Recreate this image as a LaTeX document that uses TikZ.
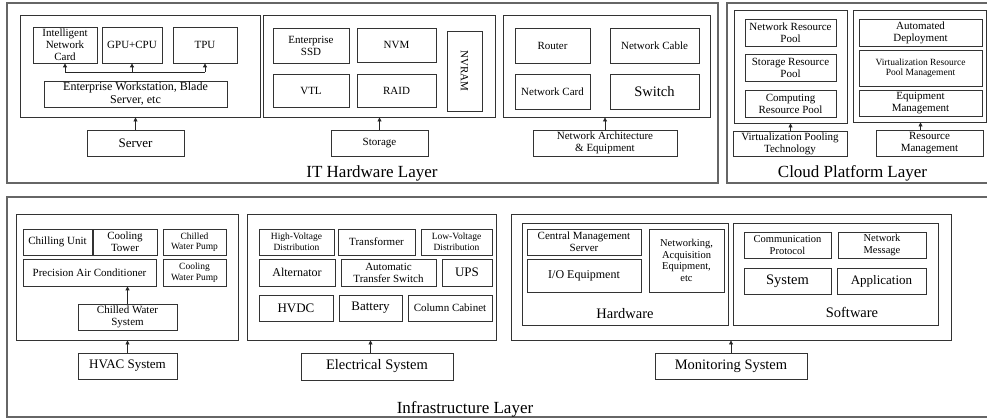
\documentclass[tikz,border=0pt]{standalone}
\usepackage{fontspec}
\setmainfont{Liberation Serif}
\usetikzlibrary{arrows.meta}

\begin{document}
\begin{tikzpicture}[x=1pt,y=-1pt,
 b/.style={draw=black!80,line width=0.8pt,inner sep=0pt,align=center},
 g/.style={draw=black!80,line width=0.9pt,inner sep=0pt},
 ly/.style={draw=black!60,line width=1.2pt,inner sep=0pt},
 ar/.style={line width=0.8pt,draw=black!85,-{Triangle[length=4pt,width=4pt]}},
 s9/.style={font=\fontsize{9.5}{10.5}\selectfont},
 s10/.style={font=\fontsize{10.5}{11.5}\selectfont},
 s11/.style={font=\fontsize{11}{12}\selectfont},
 s12/.style={font=\fontsize{12}{13}\selectfont},
 s13/.style={font=\fontsize{13}{14}\selectfont},
 s14/.style={font=\fontsize{14.5}{15.5}\selectfont},
 s17/.style={font=\fontsize{17}{18}\selectfont}]
\useasboundingbox (0,0) rectangle (987,419);

% layers
\node[ly,minimum width=711,minimum height=180] (itly) at (362.5,93) {};
\node[ly,minimum width=262,minimum height=180] (cldly) at (858,93) {};
\node[ly,minimum width=985,minimum height=220] (infly) at (499.5,307) {};
\node[s17] (itlbl) at (372,173) {IT Hardware Layer};
\node[s17] (cldlbl) at (852.5,173) {Cloud Platform Layer};
\node[s17] (inflbl) at (465,409) {Infrastructure Layer};

% server
\node[g,minimum width=240,minimum height=102] (srvgrp) at (140,66) {};
\node[b,s11,minimum width=64,minimum height=36] (inc) at (65,45) {Intelligent\\Network\\Card};
\node[b,s11,minimum width=60,minimum height=36] (gpu) at (132,45) {GPU+CPU};
\node[b,s11,minimum width=64,minimum height=36] (tpu) at (205,45) {TPU};
\node[b,s12,minimum width=183,minimum height=26] (ews) at (135.5,94) {Enterprise Workstation, Blade\\Server, etc};
\node[b,s13,minimum width=97,minimum height=26] (server) at (135.5,143) {Server};
\coordinate (bus) at (135,72);
\draw[line width=0.8pt,draw=black!85] (inc.south |- bus) -- (tpu.south |- bus);
\draw[ar] (inc.south |- bus) -- (inc.south);
\draw[ar] (gpu.south |- bus) -- (gpu.south);
\draw[ar] (tpu.south |- bus) -- (tpu.south);
\draw[ar] (server.north) -- (server.north |- srvgrp.south);

% storage
\node[g,minimum width=232,minimum height=102] (stogrp) at (379,66) {};
\node[b,s11,minimum width=76,minimum height=35] (ssd) at (311,45.5) {Enterprise\\SSD};
\node[b,s11,minimum width=79,minimum height=34] (nvm) at (396.5,45) {NVM};
\node[b,s11,minimum width=76,minimum height=33] (vtl) at (311,90.5) {VTL};
\node[b,s11,minimum width=79,minimum height=33] (raid) at (396.5,90.5) {RAID};
\node[b,s11,minimum width=80,minimum height=35,rotate=-90] (nvram) at (464.5,71) {NVRAM};
\node[b,s11,minimum width=97,minimum height=26] (storage) at (379.5,143) {Storage};
\draw[ar] (storage.north) -- (storage.north |- stogrp.south);

% network
\node[g,minimum width=207,minimum height=102] (netgrp) at (606.5,66) {};
\node[b,s11,minimum width=75,minimum height=35] (router) at (552.5,45.5) {Router};
\node[b,s11,minimum width=89,minimum height=35] (cable) at (654.5,45.5) {Network Cable};
\node[b,s11,minimum width=75,minimum height=35] (ncard) at (552.5,91.5) {Network Card};
\node[b,s14,minimum width=89,minimum height=35] (switch) at (654.5,91.5) {Switch};
\node[b,s11,minimum width=144,minimum height=26] (netarch) at (605,143) {Network Architecture\\\& Equipment};
\draw[ar] (netarch.north) -- (netarch.north |- netgrp.south);

% cloud
\node[g,minimum width=113,minimum height=113] (poolgrp) at (790.5,66.5) {};
\node[b,s11,minimum width=91,minimum height=27] (netpool) at (790.5,32.5) {Network Resource\\Pool};
\node[b,s11,minimum width=91,minimum height=27] (stopool) at (790.5,67.5) {Storage Resource\\Pool};
\node[b,s11,minimum width=91,minimum height=27] (cmppool) at (790.5,103.5) {Computing\\Resource Pool};
\node[b,s11,minimum width=114,minimum height=25] (vpt) at (790,143.5) {Virtualization Pooling\\Technology};
\draw[ar] (cmppool.south |- vpt.north) -- (cmppool.south |- poolgrp.south);
\node[g,minimum width=133,minimum height=112] (mgmtgrp) at (919.5,66) {};
\node[b,s11,minimum width=123,minimum height=27] (autodep) at (920.5,32.5) {Automated\\Deployment};
\node[b,s9,minimum width=123,minimum height=36] (vrpm) at (920.5,68) {Virtualization Resource\\Pool Management};
\node[b,s11,minimum width=123,minimum height=26] (equip) at (920.5,103) {Equipment\\Management};
\node[b,s11,minimum width=107,minimum height=26] (resmgmt) at (929.5,143) {Resource\\Management};
\draw[ar] (equip.south |- resmgmt.north) -- (equip.south |- mgmtgrp.south);

% hvac
\node[g,minimum width=222,minimum height=126] (hvacgrp) at (127,277) {};
\node[b,s11,minimum width=69,minimum height=26] (chill) at (57.5,242) {Chilling Unit};
\node[b,s11,minimum width=64,minimum height=26] (ctower) at (125,242) {Cooling\\Tower};
\node[b,s9,minimum width=63,minimum height=26] (cwpump) at (194.5,242) {Chilled\\Water Pump};
\node[b,s11,minimum width=133,minimum height=27] (pac) at (89.5,272.5) {Precision Air Conditioner};
\node[b,s9,minimum width=63,minimum height=27] (cowpump) at (194.5,272.5) {Cooling\\Water Pump};
\node[b,s11,minimum width=99,minimum height=26] (cws) at (127.5,317) {Chilled Water\\System};
\node[b,s13,minimum width=99,minimum height=26] (hvac) at (127.5,366) {HVAC System};
\draw[ar] (cws.north) -- (cws.north |- pac.south);
\draw[ar] (hvac.north) -- (hvac.north |- hvacgrp.south);

% electrical
\node[g,minimum width=249,minimum height=126] (elecgrp) at (371.5,277) {};
\node[b,s9,minimum width=75,minimum height=26] (hvd) at (296.5,242) {High-Voltage\\Distribution};
\node[b,s11,minimum width=77,minimum height=26] (trans) at (376.5,242) {Transformer};
\node[b,s9,minimum width=71,minimum height=26] (lvd) at (456.5,242) {Low-Voltage\\Distribution};
\node[b,s12,minimum width=76,minimum height=27] (alt) at (297,272.5) {Alternator};
\node[b,s11,minimum width=95,minimum height=27] (ats) at (388.5,272.5) {Automatic\\Transfer Switch};
\node[b,s13,minimum width=50,minimum height=27] (ups) at (467,272.5) {UPS};
\node[b,s13,minimum width=74,minimum height=26] (hvdc) at (296,308) {HVDC};
\node[b,s13,minimum width=63,minimum height=26] (batt) at (370.5,308) {Battery};
\node[b,s11,minimum width=84,minimum height=26] (colcab) at (450,308) {Column Cabinet};
\node[b,s14,minimum width=152,minimum height=27] (elec) at (377,366.5) {Electrical System};
\draw[ar] (elec.north -| batt.south) -- (batt.south |- elecgrp.south);

% monitoring
\node[g,minimum width=440,minimum height=126] (mongrp) at (731,277) {};
\node[g,minimum width=206,minimum height=102] (hwgrp) at (625,274) {};
\node[b,s11,minimum width=114,minimum height=26] (cms) at (584,242) {Central Management\\Server};
\node[b,s12,minimum width=114,minimum height=33] (io) at (584,275.5) {I/O Equipment};
\node[b,s10,minimum width=75,minimum height=63] (netacq) at (686.5,260.5) {Networking,\\Acquisition\\Equipment,\\etc};
\node[s14] (hwlbl) at (625,314) {Hardware};
\node[g,minimum width=205,minimum height=102] (swgrp) at (835.5,274) {};
\node[b,s10,minimum width=87,minimum height=26] (comm) at (787.5,245) {Communication\\Protocol};
\node[b,s10,minimum width=88,minimum height=26] (netmsg) at (882,245) {Network\\Message};
\node[b,s14,minimum width=87,minimum height=26] (sys) at (787.5,281) {System};
\node[b,s13,minimum width=89,minimum height=26] (app) at (881.5,281) {Application};
\node[s14] (swlbl) at (852,312) {Software};
\node[b,s14,minimum width=152,minimum height=26] (monsys) at (731,366) {Monitoring System};
\draw[ar] (monsys.north) -- (monsys.north |- mongrp.south);
\end{tikzpicture}
\end{document}
